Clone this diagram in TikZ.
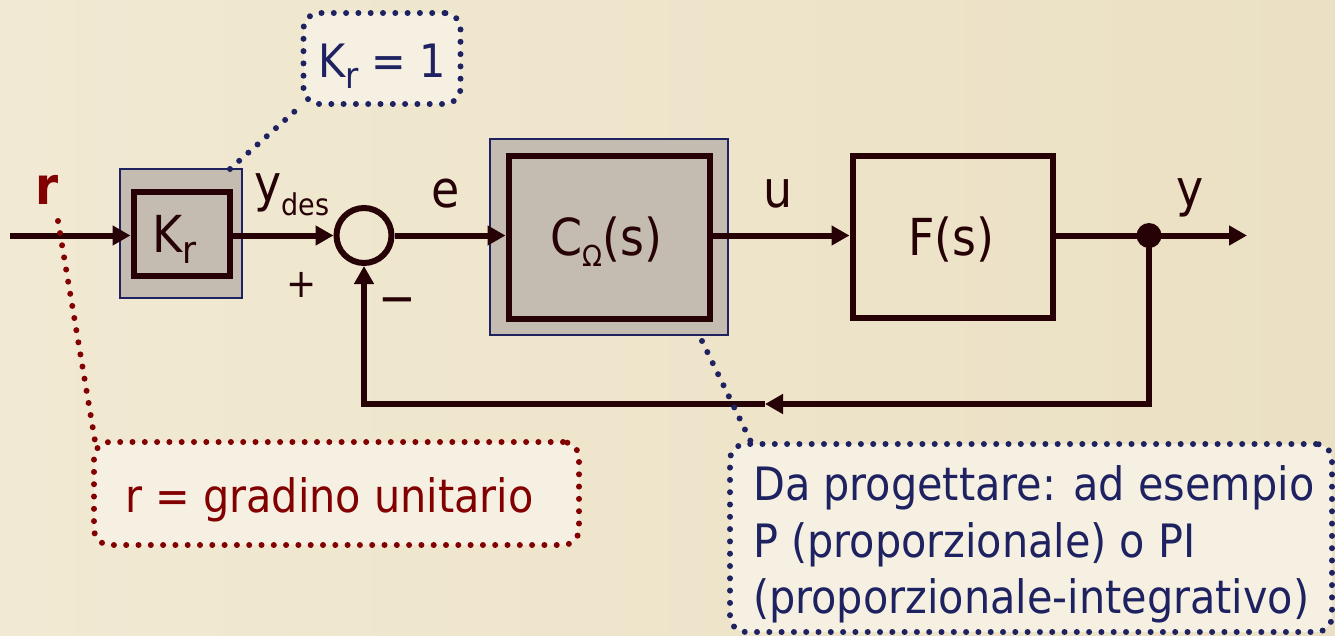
\documentclass[tikz,border=0pt]{standalone}
\usepackage{fontspec}
\setmainfont{DejaVu Sans Condensed}
\usetikzlibrary{arrows.meta}
\definecolor{dk}{RGB}{38,2,6}
\definecolor{bgA}{RGB}{241,233,211}
\definecolor{bgB}{RGB}{235,224,195}
\definecolor{grayfill}{RGB}{196,188,177}
\definecolor{nblue}{RGB}{30,34,96}
\definecolor{dred}{RGB}{130,0,0}
\definecolor{cfill}{RGB}{246,240,227}
\newcommand{\fs}[1]{\fontsize{#1}{#1}\selectfont}
\newcommand{\mysub}[3]{\raisebox{-#1}{\fs{#2}#3}}
\tikzset{
  wire/.style={draw=dk, line width=6pt},
  arr/.style={wire, -{Triangle[length=18pt,width=19pt]}},
  blk/.style={draw=dk, line width=6pt, inner sep=0pt},
  outerbox/.style={draw=nblue, line width=1.8pt, fill=grayfill, inner sep=0pt},
  lbl/.style={inner sep=0pt, text=dk, font=\fs{51}},
  callout/.style={draw=#1, fill=cfill, line width=6pt, dash pattern=on 0pt off 12.3pt, line cap=round, rounded corners=16pt, inner sep=0pt},
  leader/.style={draw=#1, line width=6pt, dash pattern=on 0pt off 12.3pt, line cap=round}
}
\begin{document}
\begin{tikzpicture}[x=1pt,y=-1pt]
\useasboundingbox (0,0) rectangle (1335,635);
\shade[left color=bgA, right color=bgB] (0,0) rectangle (1335,635);

% blocks
\node[outerbox, minimum width=122.5pt, minimum height=129.5pt] (Kro) at (181,233.5) {};
\node[blk, fill=grayfill, minimum width=96pt, minimum height=84pt] (Kr) at (181.5,233.5) {};
\node[lbl, anchor=base west] (Krt) at (152,252) {K\mysub{11pt}{38}{r}};

\node[circle, draw=dk, line width=6pt, minimum size=55pt, inner sep=0pt] (sum) at (364,235.5) {};

\node[outerbox, minimum width=238.5pt, minimum height=196.5pt] (Co) at (609,237) {};
\node[blk, fill=grayfill, minimum width=201pt, minimum height=163pt] (C) at (609,237) {};
\node[lbl, anchor=base west] (Ct) at (550,255) {C\mysub{11pt}{29}{Ω}(s)};

\node[blk, minimum width=200pt, minimum height=162pt] (F) at (952.5,236.5) {};
\node[lbl, anchor=base west] (Ft) at (908,255) {F(s)};

\node[circle, fill=dk, minimum size=25pt, inner sep=0pt] (dot) at (1149,235.5) {};

% coordinates
\coordinate (in) at (10,235.5);
\coordinate (out) at (1247,235.5);
\coordinate (fbR) at (1149,404);
\coordinate (fbM) at (765,404);
\coordinate (fbL) at (364,404);

% connectors (kept horizontal on the main line)
\draw[arr] (in) -- (in -| Kr.west);
\draw[arr] (in -| Kr.east) -- (sum.west);
\draw[arr] (sum.east) -- (in -| C.west);
\draw[arr] (in -| C.east) -- (in -| F.west);
\draw[arr] (in -| F.east) -- (out);
\draw[arr] (dot.center) -- (fbR) -- (fbM);
\draw[arr] (fbM) -- (fbL) -- (sum.south);

% signal labels
\node[lbl, text=dred, font=\fs{52}\bfseries, anchor=base] (rlab) at (47,204) {r};
\node[lbl, anchor=base west] (ydes) at (254,201) {y\mysub{14pt}{30}{des}};
\node[lbl, anchor=base] (elab) at (446,207) {e};
\node[lbl, anchor=base] (ulab) at (778,207) {u};
\node[lbl, anchor=base] (ylab) at (1190,206) {y};
\node[lbl, font=\fs{40}] (plus) at (302,285) {+};
\node[lbl, font=\fs{50}] (minus) at (397,307) {−};

% leaders
\coordinate (rl1) at (58,221);
\coordinate (rl2) at (95,441);
\coordinate (kl1) at (230,169);
\coordinate (kl2) at (303,104);
\coordinate (cl1) at (702,341);
\coordinate (cl2) at (752,444);
\draw[leader=dred] (rl1) -- (rl2);
\draw[leader=nblue] (kl1) -- (kl2);
\draw[leader=nblue] (cl1) -- (cl2);

% callouts
\node[callout=nblue, minimum width=157pt, minimum height=91pt] (kc) at (382,58.5) {};
\node[lbl, text=nblue, font=\fs{46}, anchor=base west] (kct) at (318,77) {K\mysub{11pt}{36}{r} = 1};

\node[callout=dred, minimum width=485pt, minimum height=103pt] (rc) at (336.5,493.5) {};
\node[lbl, text=dred, font=\fs{46}, anchor=base west] (rct) at (125,512) {r = gradino unitario};

\node[callout=nblue, minimum width=602pt, minimum height=188pt] (cc) at (1031,538) {};
\node[lbl, text=nblue, font=\fs{46}, anchor=base west] (cct1) at (753,500) {Da progettare: ad esempio};
\node[lbl, text=nblue, font=\fs{46}, anchor=base west] (cct2) at (753,557) {P (proporzionale) o PI};
\node[lbl, text=nblue, font=\fs{46}, anchor=base west] (cct3) at (753,613) {(proporzionale-integrativo)};
\end{tikzpicture}
\end{document}
